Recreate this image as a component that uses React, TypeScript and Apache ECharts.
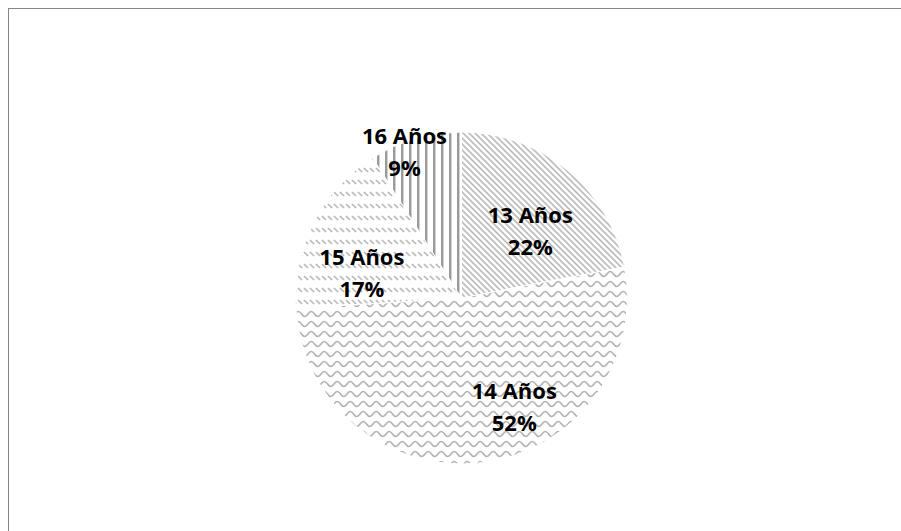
import React, { useEffect, useRef } from 'react';
import * as echarts from 'echarts';

const categories = ['13 Años', '14 Años', '15 Años', '16 Años'];
const percentages = [22, 52, 17, 9];
const patternKinds = ['diagonal', 'wave', 'dashedDiagonal', 'vertical'];
const labelOffsets = [
  [14, -2],
  [42, 23],
  [-23, 13],
  [-33, -64],
];

function makePattern(kind: string): HTMLCanvasElement {
  const c = document.createElement('canvas');
  const ctx = c.getContext('2d') as CanvasRenderingContext2D;
  if (kind === 'diagonal') {
    c.width = 6;
    c.height = 6;
    ctx.strokeStyle = '#bcbcbc';
    ctx.lineWidth = 1.6;
    for (const k of [-6, 0, 6]) {
      ctx.beginPath();
      ctx.moveTo(k - 1, -1);
      ctx.lineTo(k + 7, 7);
      ctx.stroke();
    }
  } else if (kind === 'wave') {
    c.width = 13;
    c.height = 10;
    ctx.strokeStyle = '#b3b3b3';
    ctx.lineWidth = 1.6;
    ctx.beginPath();
    ctx.moveTo(-6.5, 5);
    ctx.bezierCurveTo(-4.3, 8.3, -2.2, 8.3, 0, 5);
    ctx.bezierCurveTo(2.2, 1.7, 4.3, 1.7, 6.5, 5);
    ctx.bezierCurveTo(8.7, 8.3, 10.8, 8.3, 13, 5);
    ctx.bezierCurveTo(15.2, 1.7, 17.3, 1.7, 19.5, 5);
    ctx.stroke();
  } else if (kind === 'dashedDiagonal') {
    c.width = 6;
    c.height = 12;
    ctx.strokeStyle = '#b8b8b8';
    ctx.lineWidth = 1.7;
    ctx.beginPath();
    ctx.moveTo(1, 3);
    ctx.lineTo(5, 7);
    ctx.stroke();
  } else {
    c.width = 8;
    c.height = 8;
    ctx.fillStyle = '#9a9a9a';
    ctx.fillRect(0, 0, 2, 8);
    ctx.fillStyle = '#d2d2d2';
    ctx.fillRect(2, 0, 1, 8);
  }
  return c;
}

export default function App() {
  const ref = useRef<HTMLDivElement>(null);

  useEffect(() => {
    if (!ref.current) return;
    const chart = echarts.init(ref.current, undefined, { renderer: 'svg' });
    const data = categories.map((name, i) => ({
      name,
      value: percentages[i],
      itemStyle: {
        color: { image: makePattern(patternKinds[i]), repeat: 'repeat' },
      },
    }));
    chart.setOption({
      animation: false,
      backgroundColor: '#ffffff',
      series: [
        {
          type: 'pie',
          center: [452.5, 289],
          radius: 166,
          startAngle: 90,
          clockwise: true,
          percentPrecision: 0,
          silent: true,
          itemStyle: { borderColor: '#ffffff', borderWidth: 1 },
          label: {
            show: true,
            position: 'inside',
            formatter: '{b}\n{d}%',
            fontFamily: 'Open Sans',
            fontWeight: 'bold',
            fontSize: 22,
            lineHeight: 32,
            color: '#000000',
          },
          labelLine: { show: false },
          labelLayout: (params: any) => ({
            dx: labelOffsets[params.dataIndex][0],
            dy: labelOffsets[params.dataIndex][1],
          }),
          emphasis: { disabled: true },
          data,
        },
      ],
    });
    return () => chart.dispose();
  }, []);

  return (
    <div
      style={{
        position: 'fixed',
        left: 8,
        top: 8,
        width: 893,
        height: 523,
        overflow: 'hidden',
      }}
    >
      <div
        style={{
          width: 900,
          height: 540,
          border: '1px solid #868686',
          boxSizing: 'border-box',
        }}
      >
        <div ref={ref} style={{ width: 898, height: 538 }} />
      </div>
    </div>
  );
}
